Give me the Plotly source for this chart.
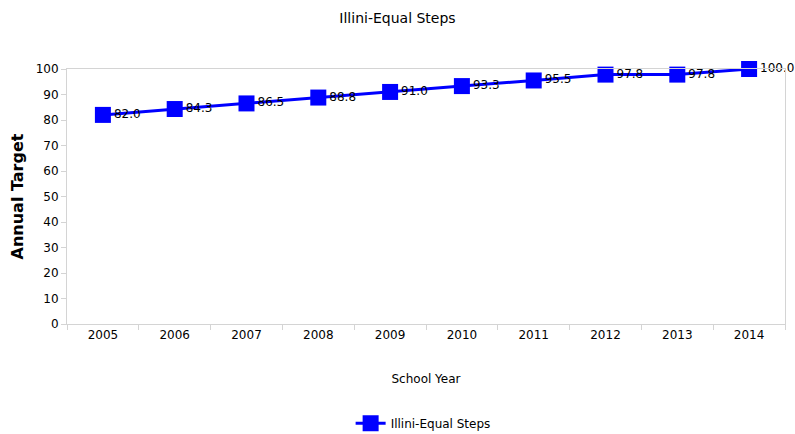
import plotly.graph_objects as go

years = ["2005", "2006", "2007", "2008", "2009", "2010", "2011", "2012", "2013", "2014"]
targets = [82.0, 84.3, 86.5, 88.8, 91.0, 93.3, 95.5, 97.8, 97.8, 100.0]
series_name = "Illini-Equal Steps"
y_ticks = [0, 10, 20, 30, 40, 50, 60, 70, 80, 90, 100]

FONT = "DejaVu Sans"
GRID = "#d4d4d4"

fig = go.Figure()
fig.add_trace(go.Scatter(
    x=years,
    y=targets,
    name=series_name,
    mode="lines+markers+text",
    line=dict(color="#0000ff", width=3),
    marker=dict(symbol="square", size=16, color="#0000ff"),
    text=[f"{v:.1f}" for v in targets],
    textposition="middle right",
    textfont=dict(family=FONT, size=12, color="#000000"),
    cliponaxis=False,
))

fig.update_layout(
    width=795,
    height=434,
    margin=dict(l=67, r=10, t=69, b=110, autoexpand=False),
    paper_bgcolor="white",
    plot_bgcolor="white",
    font=dict(family=FONT, size=12, color="#000000"),
    title=dict(text=series_name, x=0.5, xanchor="center", y=0.958, yanchor="middle",
               font=dict(family=FONT, size=14, color="#000000")),
    showlegend=True,
    legend=dict(orientation="h", x=0.496, xanchor="center", yref="container", y=0.025,
                yanchor="middle", font=dict(family=FONT, size=12)),
    xaxis=dict(
        type="category",
        range=[-0.5, len(years) - 0.5],
        automargin=False,
        title=dict(text="School Year", font=dict(family=FONT, size=12), standoff=33),
        showline=True, linecolor=GRID, linewidth=1, mirror=True,
        ticks="outside", ticklen=5, tickcolor=GRID, tickson="boundaries",
        showgrid=False, tickfont=dict(family=FONT, size=12),
    ),
    yaxis=dict(
        range=[0, 100],
        automargin=False,
        tickvals=y_ticks,
        title=dict(text="<b>Annual Target</b>", font=dict(family=FONT, size=16), standoff=8),
        showline=True, linecolor=GRID, linewidth=1, mirror=True,
        ticks="outside", ticklen=5, tickcolor=GRID,
        showgrid=False, zeroline=False, tickfont=dict(family=FONT, size=12),
    ),
)

fig.write_html("out.html")
